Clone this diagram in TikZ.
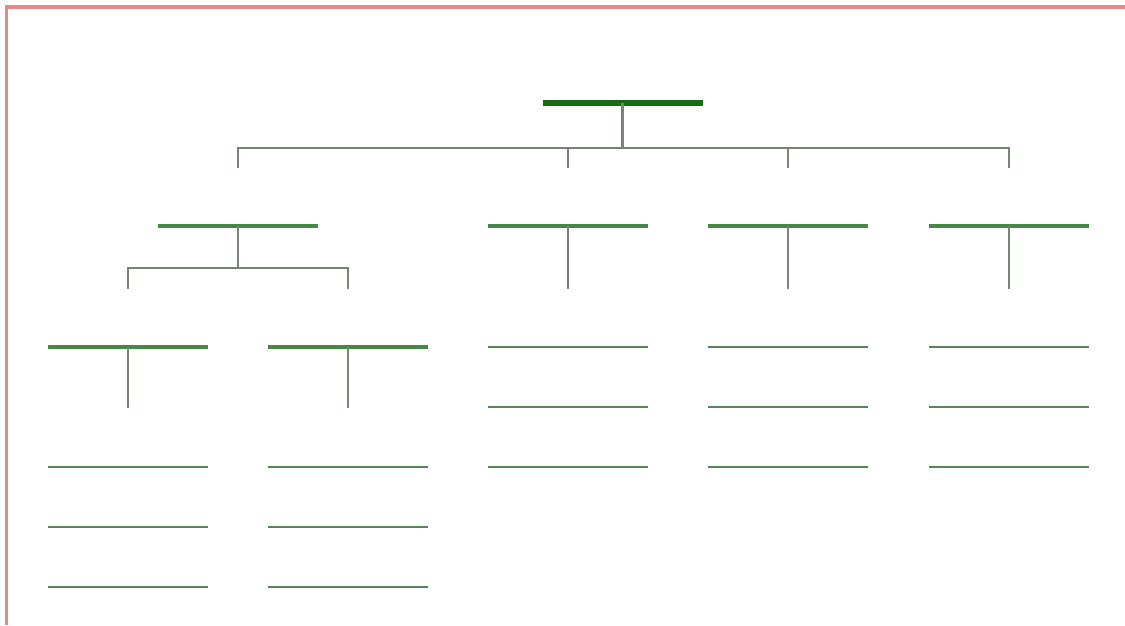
\documentclass[tikz,border=0pt]{standalone}
\usepackage{tikz}
\usetikzlibrary{calc}
\definecolor{TopGreen}{RGB}{25,105,25}
\definecolor{BarGreen}{RGB}{70,135,70}
\definecolor{LinkGray}{RGB}{115,135,115}
\definecolor{RowGreen}{RGB}{85,135,85}
\definecolor{FrameRed}{RGB}{232,135,135}
\tikzset{
  topbar/.style={draw=TopGreen,line width=3.2pt},
  bar/.style={draw=BarGreen,line width=2.2pt},
  link/.style={draw=LinkGray,line width=1.5pt},
  row/.style={draw=RowGreen,line width=1.6pt},
  frame/.style={draw=FrameRed,line width=2pt},
}
\begin{document}
\begin{tikzpicture}
\useasboundingbox (0,0) rectangle (22.5,12.5);
\draw[frame] (0.13,0) -- (0.13,12.36) -- (22.5,12.36);
\coordinate (top) at (12.45,10.44);
\coordinate (ka) at (4.76,7.98);
\coordinate (kb) at (11.36,7.98);
\coordinate (kc) at (15.76,7.98);
\coordinate (kd) at (20.18,7.98);
\coordinate (la) at (2.56,5.56);
\coordinate (lb) at (6.96,5.56);
% bars
\draw[topbar] ($(top)+(-1.6,0)$) -- ($(top)+(1.6,0)$);
\foreach \k in {ka,kb,kc,kd}
  \draw[bar] ($(\k)+(-1.6,0)$) -- ($(\k)+(1.6,0)$);
\foreach \k in {la,lb}
  \draw[bar] ($(\k)+(-1.6,0)$) -- ($(\k)+(1.6,0)$);
% top connectors
\draw[link] (top) -- (top |- 0,9.54);
\draw[link] (ka |- 0,9.14) -- (ka |- 0,9.54) -- (kd |- 0,9.54) -- (kd |- 0,9.14);
\draw[link] (kb |- 0,9.54) -- (kb |- 0,9.14);
\draw[link] (kc |- 0,9.54) -- (kc |- 0,9.14);
% left branch
\draw[link] (ka) -- (ka |- 0,7.14);
\draw[link] (la |- 0,6.72) -- (la |- 0,7.14) -- (lb |- 0,7.14) -- (lb |- 0,6.72);
\foreach \k in {kb,kc,kd}
  \draw[link] (\k) -- ($(\k)+(0,-1.26)$);
\foreach \k in {la,lb}
  \draw[link] (\k) -- ($(\k)+(0,-1.22)$);
% rows
\foreach \k in {kb,kc,kd}
  \foreach \d in {2.42,3.62,4.82}
    \draw[row] ($(\k)+(-1.6,-\d)$) -- ($(\k)+(1.6,-\d)$);
\foreach \k in {la,lb}
  \foreach \d in {2.4,3.6,4.8}
    \draw[row] ($(\k)+(-1.6,-\d)$) -- ($(\k)+(1.6,-\d)$);
\end{tikzpicture}
\end{document}
